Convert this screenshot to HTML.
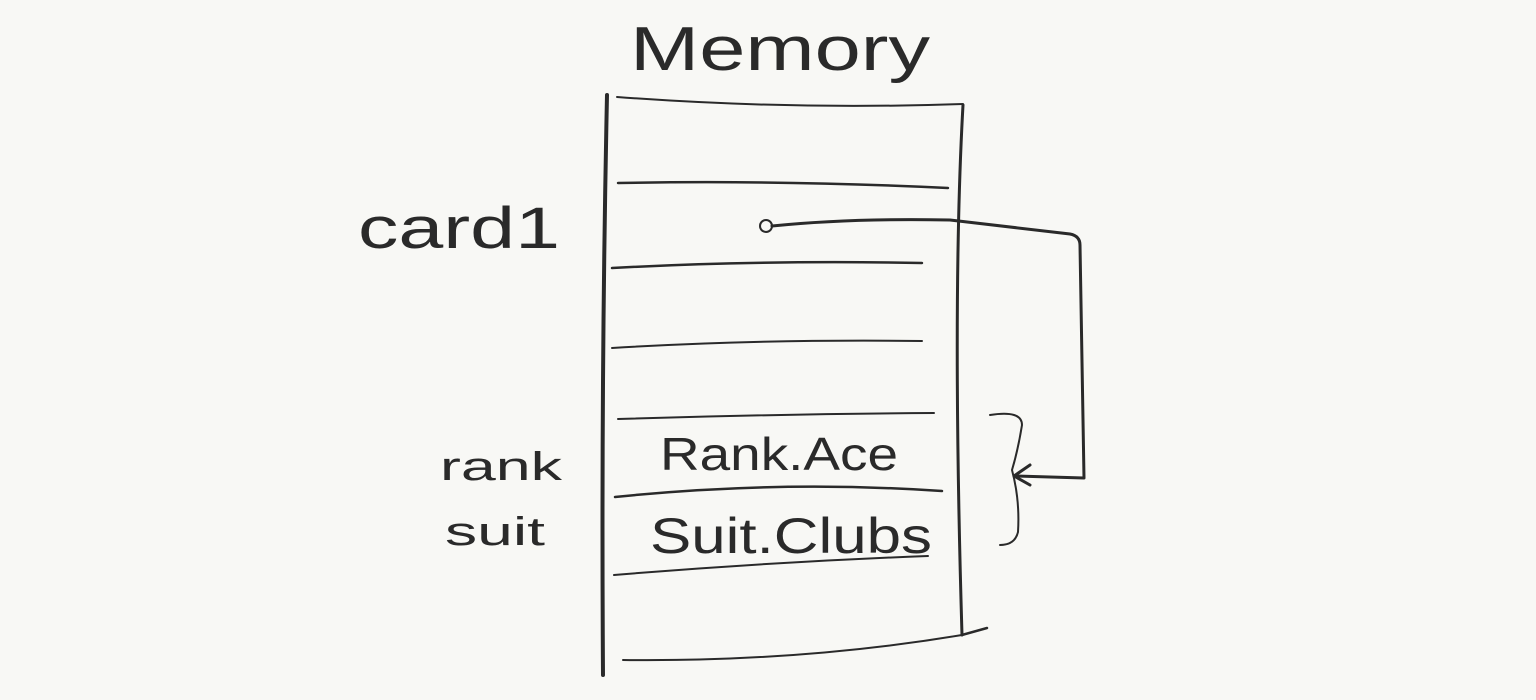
<!DOCTYPE html>
<html><head><meta charset="utf-8"><style>
html,body{margin:0;padding:0;background:#f8f8f5;}
svg{display:block}
text{font-family:"Liberation Sans",sans-serif;fill:#2a2a2a;}
</style></head><body>
<svg width="1536" height="700" viewBox="0 0 1536 700" xmlns="http://www.w3.org/2000/svg">
<rect width="1536" height="700" fill="#f8f8f5"/>
<g fill="none" stroke="#2a2a2a" stroke-linecap="round" stroke-linejoin="round">
 <!-- verticals -->
 <path d="M607 95 Q601 380 603 675" stroke-width="4"/>
 <path d="M963 105 Q952 300 962 635" stroke-width="3"/>
 <!-- horizontals -->
 <path d="M617 97 Q790 110 963 104" stroke-width="2"/>
 <path d="M618 183 Q780 180 948 188" stroke-width="2.5"/>
 <path d="M612 268 Q760 260 922 263" stroke-width="2.5"/>
 <path d="M612 348 Q760 339 922 341" stroke-width="2"/>
 <path d="M618 419 Q780 414 934 413" stroke-width="2"/>
 <path d="M615 497 Q780 480 942 491" stroke-width="2.5"/>
 <path d="M614 575 Q770 562 928 556" stroke-width="2"/>
 <path d="M962 635 L987 628" stroke-width="2.5"/>
 <path d="M623 660 Q800 662 962 635" stroke-width="2"/>
 <!-- pointer -->
 <circle cx="766" cy="226" r="6" stroke-width="2"/>
 <path d="M772 226 Q850 218 950 220 L1070 234 Q1080 236 1080 245 L1084 478 L1015 476" stroke-width="3"/>
 <path d="M1030 465 L1014 476 L1030 485" stroke-width="3"/>
 <!-- bracket -->
 <path d="M990 415 Q1022 410 1022 425 Q1018 450 1012 470 Q1020 500 1018 532 Q1015 545 1000 545" stroke-width="2"/>
</g>
<text x="630" y="70" font-size="62" textLength="300" lengthAdjust="spacingAndGlyphs">Memory</text>
<text x="358" y="248" font-size="58" textLength="202" lengthAdjust="spacingAndGlyphs">card1</text>
<text x="440" y="480" font-size="40" textLength="122" lengthAdjust="spacingAndGlyphs">rank</text>
<text x="445" y="545" font-size="40" textLength="100" lengthAdjust="spacingAndGlyphs">suit</text>
<text x="660" y="470" font-size="46" textLength="238" lengthAdjust="spacingAndGlyphs">Rank.Ace</text>
<text x="650" y="553" font-size="50" textLength="282" lengthAdjust="spacingAndGlyphs">Suit.Clubs</text>
</svg>
</body></html>
